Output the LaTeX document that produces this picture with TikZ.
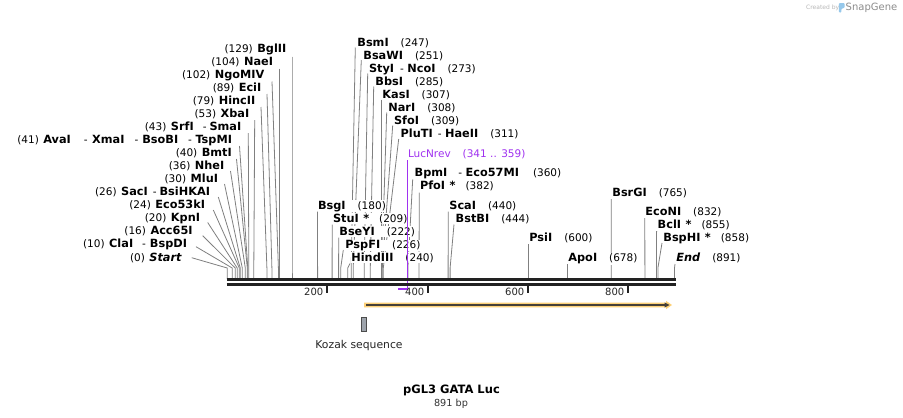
\documentclass[tikz,border=0pt]{standalone}
\usepackage{fontspec}
\setmainfont{DejaVu Sans}
\usetikzlibrary{calc}
\pgfdeclarelayer{back}
\pgfdeclarelayer{bg}
\pgfsetlayers{back,bg,main}
\definecolor{sitegray}{RGB}{128,128,128}
\definecolor{lucpurple}{RGB}{160,50,240}
\definecolor{mapcol}{RGB}{34,34,34}
\definecolor{featorange}{RGB}{253,209,120}
\definecolor{featline}{RGB}{70,64,56}
\definecolor{kozakgray}{RGB}{158,164,172}
\definecolor{snapblue}{RGB}{150,200,235}
\newcommand{\nm}[1]{{\fontsize{11.3}{12}\selectfont\bfseries #1}}
\newcommand{\nmi}[1]{{\fontsize{11.3}{12}\selectfont\bfseries\itshape #1}}
% #1 id, #2 anchor, #3 x, #4 y, #5 text, #6 sx, #7 sy, #8 site x
\newcommand{\lbl}[8]{%
  \coordinate (a#1) at (#6,#7);
  \coordinate (k#1) at (#8,268);
  \coordinate (m#1) at (#8,279);
  \begin{pgfonlayer}{bg}
  \draw[siteline] (a#1) -- (k#1) -- (m#1);
  \end{pgfonlayer}
  \node[lab,anchor=#2] (L#1) at (#3,#4) {#5};}
\begin{document}
\begin{tikzpicture}[x=1pt,y=-1pt,
  siteline/.style={draw=sitegray,line width=0.8pt},
  lab/.style={fill=white,inner sep=0.5pt,text=black,font=\fontsize{10.5}{12}\selectfont},
  ticklab/.style={inner sep=0pt,text=black!85,font=\fontsize{10}{12}\selectfont},
  tickmark/.style={draw=mapcol,line width=2pt}]
\begin{pgfonlayer}{back}
\fill[white] (0,0) rectangle (903,418);
\end{pgfonlayer}
\useasboundingbox (0,0) rectangle (903,418);

% left group
\lbl{129}{base east}{287}{52}{(129)\hspace{4.5pt}\nm{BglII}}{292}{56.5}{292}
\lbl{104}{base east}{273.7}{65.1}{(104)\hspace{4.5pt}\nm{NaeI}}{279.4}{68.5}{279.4}
\lbl{102}{base east}{265}{78.1}{(102)\hspace{4.5pt}\nm{NgoMIV}}{272}{81.5}{278.4}
\lbl{89}{base east}{262}{91.2}{(89)\hspace{4.5pt}\nm{EciI}}{267}{94}{271.9}
\lbl{79}{base east}{256}{104.2}{(79)\hspace{4.5pt}\nm{HincII}}{261}{107}{266.9}
\lbl{53}{base east}{250}{117.3}{(53)\hspace{4.5pt}\nm{XbaI}}{254.7}{120}{253.8}
\lbl{43}{base east}{242}{130.4}{(43)\hspace{4.5pt}\nm{SrfI}\hspace{9pt}-\hspace{3pt}\nm{SmaI}}{248.3}{133}{248.8}
\lbl{41}{base east}{232.7}{143.4}{(41)\hspace{4.5pt}\nm{AvaI}\hspace{13pt}-\hspace{4.5pt}\nm{XmaI}\hspace{10pt}-\hspace{4pt}\nm{BsoBI}\hspace{10pt}-\hspace{3.5pt}\nm{TspMI}}{239.5}{146}{247.8}
\lbl{40}{base east}{232.5}{156.5}{(40)\hspace{4.5pt}\nm{BmtI}}{236.5}{159}{247.3}
\lbl{36}{base east}{225}{169.5}{(36)\hspace{4.5pt}\nm{NheI}}{230.5}{171}{245.3}
\lbl{30}{base east}{218.7}{182.6}{(30)\hspace{4.5pt}\nm{MluI}}{224.5}{184}{242.3}
\lbl{26}{base east}{210.7}{195.7}{(26)\hspace{4.5pt}\nm{SacI}\hspace{5pt}-\hspace{3pt}\nm{BsiHKAI}}{218.3}{197}{240.3}
\lbl{24}{base east}{205.7}{208.7}{(24)\hspace{4.5pt}\nm{Eco53kI}}{213.3}{210}{239.3}
\lbl{20}{base east}{200.7}{221.8}{(20)\hspace{4.5pt}\nm{KpnI}}{207.7}{222.5}{237.2}
\lbl{16}{base east}{193.3}{234.8}{(16)\hspace{4.5pt}\nm{Acc65I}}{202.7}{235.7}{235.2}
\lbl{10}{base east}{187.7}{247.9}{(10)\hspace{4.5pt}\nm{ClaI}\hspace{9pt}-\hspace{4pt}\nm{BspDI}}{196}{246.7}{232.2}
\lbl{0}{base east}{182.3}{261}{(0)\hspace{4.5pt}\nmi{Start}}{191.7}{257.7}{227.2}

% middle group
\lbl{247}{base west}{356.7}{46.7}{\nm{BsmI}\hspace{12pt}(247)}{355.3}{47.5}{351.2}
\lbl{251}{base west}{362.7}{59.4}{\nm{BsaWI}\hspace{12pt}(251)}{361.3}{60}{353.2}
\lbl{273}{base west}{368.3}{72.4}{\nm{StyI}\hspace{6pt}-\hspace{3.5pt}\nm{NcoI}\hspace{12pt}(273)}{367.7}{73.5}{364.2}
\lbl{285}{base west}{374.7}{85.5}{\nm{BbsI}\hspace{12pt}(285)}{373.7}{86.5}{370.3}
\lbl{307}{base west}{381.7}{98.5}{\nm{KasI}\hspace{12pt}(307)}{381.3}{99.5}{381.3}
\lbl{308}{base west}{387.7}{111.6}{\nm{NarI}\hspace{12pt}(308)}{386.7}{112.5}{381.8}
\lbl{309}{base west}{393.3}{124.7}{\nm{SfoI}\hspace{12pt}(309)}{392.7}{125.5}{382.3}
\lbl{311}{base west}{400}{137.7}{\nm{PluTI}\hspace{5pt}-\hspace{3.5pt}\nm{HaeII}\hspace{12pt}(311)}{398.7}{139}{383.3}
\lbl{360}{base west}{414}{176.5}{\nm{BpmI}\hspace{11pt}-\hspace{3.5pt}\nm{Eco57MI}\hspace{14pt}(360)}{412.7}{179.3}{407.9}
\lbl{382}{base west}{419.3}{189.5}{\nm{PfoI}\hspace{4.5pt}\nm{*}\hspace{10pt}(382)}{419.3}{192.5}{419}
\lbl{180}{base west}{317.3}{209}{\nm{BsgI}\hspace{12pt}(180)}{317.5}{211.5}{317.6}
\lbl{209}{base west}{332.3}{222.3}{\nm{StuI}\hspace{4.5pt}\nm{*}\hspace{10pt}(209)}{332.2}{224.5}{332.1}
\lbl{222}{base west}{338.7}{235}{\nm{BseYI}\hspace{12pt}(222)}{338.7}{237.5}{338.6}
\lbl{226}{base west}{344.7}{248.3}{\nm{PspFI}\hspace{12pt}(226)}{343.3}{250}{340.7}
\lbl{240}{base west}{350.7}{261.3}{\nm{HindIII}\hspace{12pt}(240)}{350}{263.5}{347.7}
\lbl{440}{base west}{448.7}{209}{\nm{ScaI}\hspace{12pt}(440)}{448.3}{211.5}{448.1}
\lbl{444}{base west}{455}{222.3}{\nm{BstBI}\hspace{12pt}(444)}{454}{224.5}{450.1}
\lbl{600}{base west}{528.7}{241.3}{\nm{PsiI}\hspace{12pt}(600)}{528.4}{244}{528.4}
\lbl{678}{base west}{567.7}{261.7}{\nm{ApoI}\hspace{12pt}(678)}{567.6}{264}{567.6}
\lbl{765}{base west}{611.7}{196.3}{\nm{BsrGI}\hspace{12pt}(765)}{611.3}{199}{611.2}
\lbl{832}{base west}{644.7}{215.7}{\nm{EcoNI}\hspace{12pt}(832)}{644.8}{218}{644.9}
\lbl{855}{base west}{657}{228.3}{\nm{BclI}\hspace{4.5pt}\nm{*}\hspace{10pt}(855)}{656.6}{231}{656.4}
\lbl{858}{base west}{662.7}{241}{\nm{BspHI}\hspace{4.5pt}\nm{*}\hspace{10pt}(858)}{662}{243}{657.9}
\lbl{891}{base west}{675.7}{261.7}{\nmi{End}\hspace{12pt}(891)}{675}{264}{674.5}

% primer LucNrev
\node[lab,anchor=base west,text=lucpurple] (Luc) at (407.3,157.3) {LucNrev\hspace{12pt}(341 .. 359)};
\coordinate (lucA) at (407.6,160);
\coordinate (lucB) at (407.6,288.8);
\coordinate (lucC) at (398,288.8);
\draw[lucpurple,line width=1.3pt] (lucA) -- (lucB);
\draw[lucpurple,line width=2pt] ([xshift=0.6pt]lucB) -- (lucC);

% map
\draw[mapcol,line width=2.8pt] (226.7,279.8) -- (675.7,279.8);
\draw[mapcol,line width=2.8pt] (226.7,284.4) -- (675.7,284.4);
\foreach \t/\x in {200/326.7,400/427.7,600/527.7,800/627.7}{
  \draw[tickmark] (\x,285.5) -- (\x,292.5);
  \node[ticklab,anchor=base east] (T\t) at (\x-3.2,295) {\t};
}

% feature arrow
\fill[featorange] (364,302.6) -- (666,302.6) -- (666,300.8) -- (672,305) -- (666,309.2) -- (666,307.4) -- (364,307.4) -- cycle;
\draw[featline,line width=1.6pt] (366,305) -- (666,305);
\fill[featline] (664.5,302.4) -- (669.5,305) -- (664.5,307.6) -- cycle;

% Kozak
\node[draw=black!70,fill=kozakgray,line width=0.8pt,minimum width=5.3pt,minimum height=13.7pt,inner sep=0pt] (koz) at (363.85,324.2) {};
\node[anchor=base,inner sep=0pt,text=black!85,font=\fontsize{10.8}{12}\selectfont] (kozl) at (359,348.3) {Kozak sequence};

% title
\node[anchor=base,inner sep=0pt,font=\fontsize{11.5}{13}\selectfont\bfseries] (title) at (451.5,393.3) {pGL3 GATA Luc};
\node[anchor=base,inner sep=0pt,text=black!80,font=\fontsize{9.7}{11}\selectfont] (len) at (451,406) {891 bp};

% watermark
\node[anchor=base west,inner sep=0pt,text=black!28,font=\fontsize{6}{7}\selectfont] (cb) at (806,9.5) {Created by};
\fill[snapblue,rounded corners=1pt] (838.8,3) -- (844.5,3) -- (844.5,8) -- (841.4,8.6) -- (841.4,12.5) -- (838.8,12.5) -- cycle;
\node[anchor=base west,inner sep=0pt,text=black!45,font=\fontsize{10}{11}\selectfont] (sg) at (845.5,10) {SnapGene};
\end{tikzpicture}
\end{document}
